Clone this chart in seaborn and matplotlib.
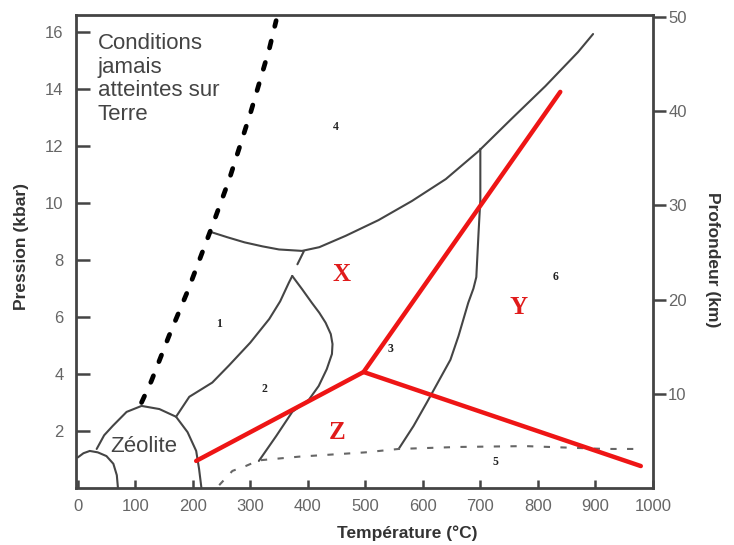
import matplotlib
matplotlib.use("Agg")
import matplotlib.pyplot as plt
import seaborn as sns

# values: temperature (°C) / pressure (kbar)
geo_T = [111, 128, 159, 191, 206, 234, 263, 301, 333, 345]
geo_P = [3.0, 3.75, 5.35, 6.9, 7.7, 9.2, 10.8, 13.2, 15.4, 16.4]

small_T = [0, 10, 21, 35, 50, 62, 68, 70]
small_P = [1.07, 1.22, 1.3, 1.25, 1.12, 0.85, 0.45, 0]

zeo_T = [33, 46, 61, 85, 111, 142, 171, 191, 206, 211, 215]
zeo_P = [1.37, 1.85, 2.18, 2.67, 2.88, 2.77, 2.5, 1.96, 1.3, 0.67, 0.02]

c1_T = [171, 194, 234, 263, 300, 333, 352, 367, 373]
c1_P = [2.5, 3.2, 3.7, 4.3, 5.1, 5.93, 6.55, 7.2, 7.44]

c2_T = [373, 390, 407, 420, 431, 440, 443, 442, 433, 419, 402, 373, 345, 315]
c2_P = [7.44, 6.98, 6.5, 6.15, 5.8, 5.4, 5.05, 4.7, 4.17, 3.58, 3.1, 2.67, 1.82, 0.95]

tick_T = [382, 393]
tick_P = [7.85, 8.3]

bs_T = [232, 260, 290, 321, 350, 390, 420, 466, 523, 581, 640, 697, 754, 813, 870, 896]
bs_P = [8.98, 8.8, 8.62, 8.48, 8.37, 8.32, 8.45, 8.85, 9.4, 10.07, 10.84, 11.82, 12.95, 14.1, 15.3, 15.93]

c6_T = [700, 700, 697, 693, 688, 679, 662, 648, 607, 584, 558]
c6_P = [11.9, 10.1, 9.0, 7.4, 7.0, 6.5, 5.33, 4.5, 3.0, 2.18, 1.37]

low_T = [246, 269, 292, 315, 385, 500, 558, 662, 778, 917, 977]
low_P = [0.1, 0.6, 0.77, 0.97, 1.1, 1.25, 1.37, 1.44, 1.47, 1.37, 1.37]

red_T = [206, 497, 839]
red_P = [0.95, 4.07, 13.9]
red2_T = [497, 979]
red2_P = [4.07, 0.77]

letters = ["X", "Y", "Z"]
letters_T = [458, 766, 451]
letters_P = [7.5, 6.35, 1.96]

nums = ["1", "2", "3", "4", "5", "6"]
nums_T = [246, 324, 544, 449, 726, 830]
nums_P = [5.75, 3.47, 4.88, 12.67, 0.91, 7.4]

xticks = [0, 100, 200, 300, 400, 500, 600, 700, 800, 900, 1000]
yticks = [2, 4, 6, 8, 10, 12, 14, 16]
depth_ticks = [10, 20, 30, 40, 50]

sns.set_style("white")
plt.rcParams['font.family'] = ['Liberation Sans', 'DejaVu Sans']

fig = plt.figure(figsize=(7.34, 5.45), dpi=100)
ax = fig.add_axes([0.1035, 0.1046, 0.786, 0.868])

grey = '#454545'
# thin boundaries
for tx, py in [(small_T, small_P), (zeo_T, zeo_P), (c1_T, c1_P), (c2_T, c2_P),
               (tick_T, tick_P), (bs_T, bs_P), (c6_T, c6_P)]:
    sns.lineplot(x=tx, y=py, sort=False, estimator=None, ax=ax, color=grey, lw=1.5)

# limit of conditions on Earth
sns.lineplot(x=geo_T, y=geo_P, sort=False, estimator=None, ax=ax, color='black',
             lw=3.4, ls=(0, (1.5, 3.2)), dash_capstyle='round')
# lower dashed boundary
sns.lineplot(x=low_T, y=low_P, sort=False, estimator=None, ax=ax, color='#666666',
             lw=1.5, ls=(0, (3, 5)))

# red lines
sns.lineplot(x=red_T, y=red_P, sort=False, estimator=None, ax=ax, color='#ee1515', lw=3.2)
sns.lineplot(x=red2_T, y=red2_P, sort=False, estimator=None, ax=ax, color='#ee1515', lw=3.2)

for s, t, p in zip(letters, letters_T, letters_P):
    ax.text(t, p, s, color='#e01b1b', fontsize=18, fontweight='bold',
            family=['Liberation Serif'], ha='center', va='center')
for s, t, p in zip(nums, nums_T, nums_P):
    ax.text(t, p, s, color='#222222', fontsize=8.5, fontweight='bold',
            family=['Liberation Serif'], ha='center', va='center')

ax.text(35, 15.95, "Conditions\njamais\natteintes sur\nTerre", color='#444444',
        fontsize=16, linespacing=1.15, ha='left', va='top')
ax.text(115, 1.47, "Zéolite", color='#444444', fontsize=16, ha='center', va='center')

ax.set_xlim(-3, 1000)
ax.set_ylim(0, 16.6)
ax.set_xticks(xticks)
ax.set_yticks(yticks)
ax.tick_params(axis='both', colors='#444444', labelcolor='#666666', labelsize=12,
               width=1.8)
ax.tick_params(axis='y', direction='in', length=10, pad=9, left=True)
ax.tick_params(axis='x', direction='in', length=6, pad=8, bottom=True)
for side in ['left', 'bottom', 'top']:
    ax.spines[side].set_color('#444444')
    ax.spines[side].set_linewidth(2)
ax.spines['right'].set_visible(False)

ax.set_xlabel("Température (°C)", fontsize=12.5, fontweight='bold', color='#333333')
ax.set_ylabel("Pression (kbar)", fontsize=12.5, fontweight='bold', color='#333333')
ax.xaxis.set_label_coords(0.575, -0.08)
ax.yaxis.set_label_coords(-0.082, 0.51)

ax2 = ax.twinx()
ax2.set_ylim(0, 50.2)
ax2.set_yticks(depth_ticks)
ax2.tick_params(axis='y', direction='out', length=9, width=1.8, pad=2,
                colors='#444444', labelcolor='#666666', labelsize=12, right=True)
for side in ['left', 'bottom', 'top']:
    ax2.spines[side].set_visible(False)
ax2.spines['right'].set_color('#444444')
ax2.spines['right'].set_linewidth(2)
ax2.set_ylabel("Profondeur (km)", fontsize=12.5, fontweight='bold', color='#333333',
               rotation=270, va='bottom')
ax2.yaxis.set_label_coords(1.09, 0.482)

fig.savefig("out.png", dpi=100)
